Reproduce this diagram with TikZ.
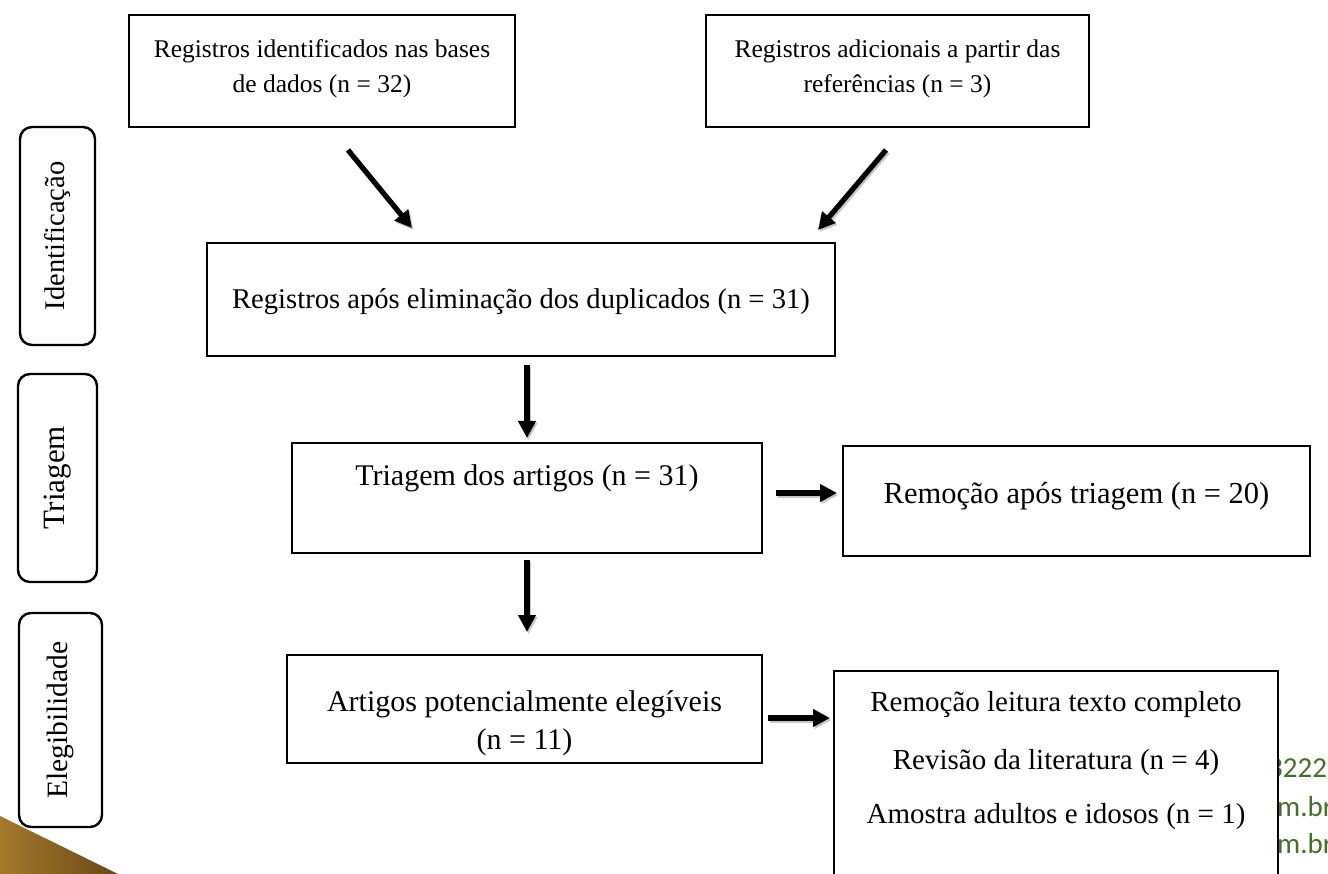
\documentclass[tikz,border=0pt]{standalone}
\usepackage{fontspec}
\setmainfont{Liberation Serif}
\newfontfamily\calib{Carlito}
\usetikzlibrary{arrows.meta}
\definecolor{gold1}{RGB}{165,122,45}
\definecolor{gold2}{RGB}{105,70,22}
\definecolor{webgreen}{RGB}{72,110,45}
\begin{document}
\begin{tikzpicture}[x=1pt,y=-1pt,
  box/.style={draw, line width=2.4pt, fill=white, inner sep=0pt},
  phase/.style={draw, line width=2.4pt, rounded corners=12pt, inner sep=0pt},
  txt/.style={inner sep=0pt, anchor=base},
  fa/.style={font=\fontsize{25.5}{30}\selectfont},
  fc/.style={font=\fontsize{28.6}{34}\selectfont},
  fd/.style={font=\fontsize{30}{36}\selectfont},
  fe/.style={font=\fontsize{30.5}{36}\selectfont},
  ff/.style={font=\fontsize{30}{36}\selectfont},
  fg/.style={font=\fontsize{29}{34}\selectfont},
  web/.style={font=\calib\fontsize{29}{34}\selectfont, text=webgreen, inner sep=0pt, anchor=base west},
  arr/.style={line width=5.2pt, -{Triangle[length=17pt,width=17pt]}},
]
\useasboundingbox (0,0) rectangle (1328,874);

% decorative background fragments
\shade[left color=gold1, right color=gold2] (0,816) -- (118,874) -- (0,874) -- cycle;
\node[web] (w1) at (1268,777) {3222};
\node[web] (w2) at (1277,816) {m.br};
\node[web] (w3) at (1277,853) {m.br};

% boxes
\node[box, minimum width=386pt, minimum height=112pt] (A) at (322,71) {};
\node[box, minimum width=383pt, minimum height=112pt] (B) at (897.5,71) {};
\node[box, minimum width=628pt, minimum height=113pt] (C) at (521,299.5) {};
\node[box, minimum width=470pt, minimum height=110pt] (D) at (527,498) {};
\node[box, minimum width=467pt, minimum height=110pt] (E) at (1076.5,501) {};
\node[box, minimum width=475pt, minimum height=108pt] (F) at (524.5,709) {};
\node[box, minimum width=444pt, minimum height=229pt] (G) at (1056,785.5) {};

% texts
\node[txt, fa] (A1) at (322,58) {Registros identificados nas bases};
\node[txt, fa] (A2) at (322,93) {de dados (n = 32)};
\node[txt, fa] (B1) at (897.5,58) {Registros adicionais a partir das};
\node[txt, fa] (B2) at (897.5,93) {referências (n = 3)};
\node[txt, fc] (C1) at (521,309) {Registros após eliminação dos duplicados (n = 31)};
\node[txt, fd] (D1) at (527,485) {Triagem dos artigos (n = 31)};
\node[txt, fe] (E1) at (1076.5,503) {Remoção após triagem (n = 20)};
\node[txt, ff] (F1) at (524.5,711) {Artigos potencialmente elegíveis};
\node[txt, ff] (F2) at (524.5,749) {(n = 11)};
\node[txt, fg] (G1) at (1056,711) {Remoção leitura texto completo};
\node[txt, fg] (G2) at (1056,769) {Revisão da literatura (n = 4)};
\node[txt, fg] (G3) at (1056,823) {Amostra adultos e idosos (n = 1)};

% phase labels
\node[phase, minimum width=75pt, minimum height=218pt] (P1) at (57.5,236) {};
\node[phase, minimum width=79pt, minimum height=208pt] (P2) at (57.5,478) {};
\node[phase, minimum width=83pt, minimum height=214pt] (P3) at (60.5,720) {};
\node[font=\fontsize{28.5}{34}\selectfont, rotate=90] (P1t) at (P1.center) {Identificação};
\node[font=\fontsize{31}{36}\selectfont, rotate=90] (P2t) at (P2.center) {Triagem};
\node[font=\fontsize{29.5}{34}\selectfont, rotate=90] (P3t) at (P3.center) {Elegibilidade};

% arrows
\coordinate (a1s) at (348,150); \coordinate (a1e) at (412,228);
\coordinate (a2s) at (886,150); \coordinate (a2e) at (818,230);
\coordinate (a3s) at (527,365); \coordinate (a3e) at (527,438);
\coordinate (a4s) at (776,493); \coordinate (a4e) at (837,493);
\coordinate (a5s) at (527,560); \coordinate (a5e) at (527,632);
\coordinate (a6s) at (768,718); \coordinate (a6e) at (830,718);
\foreach \i in {1,...,6}{
  \draw[arr, draw=black!22, fill=black!22, transform canvas={xshift=1.5pt,yshift=-2pt}] (a\i s) -- (a\i e);
  \draw[arr] (a\i s) -- (a\i e);
}
\end{tikzpicture}
\end{document}
